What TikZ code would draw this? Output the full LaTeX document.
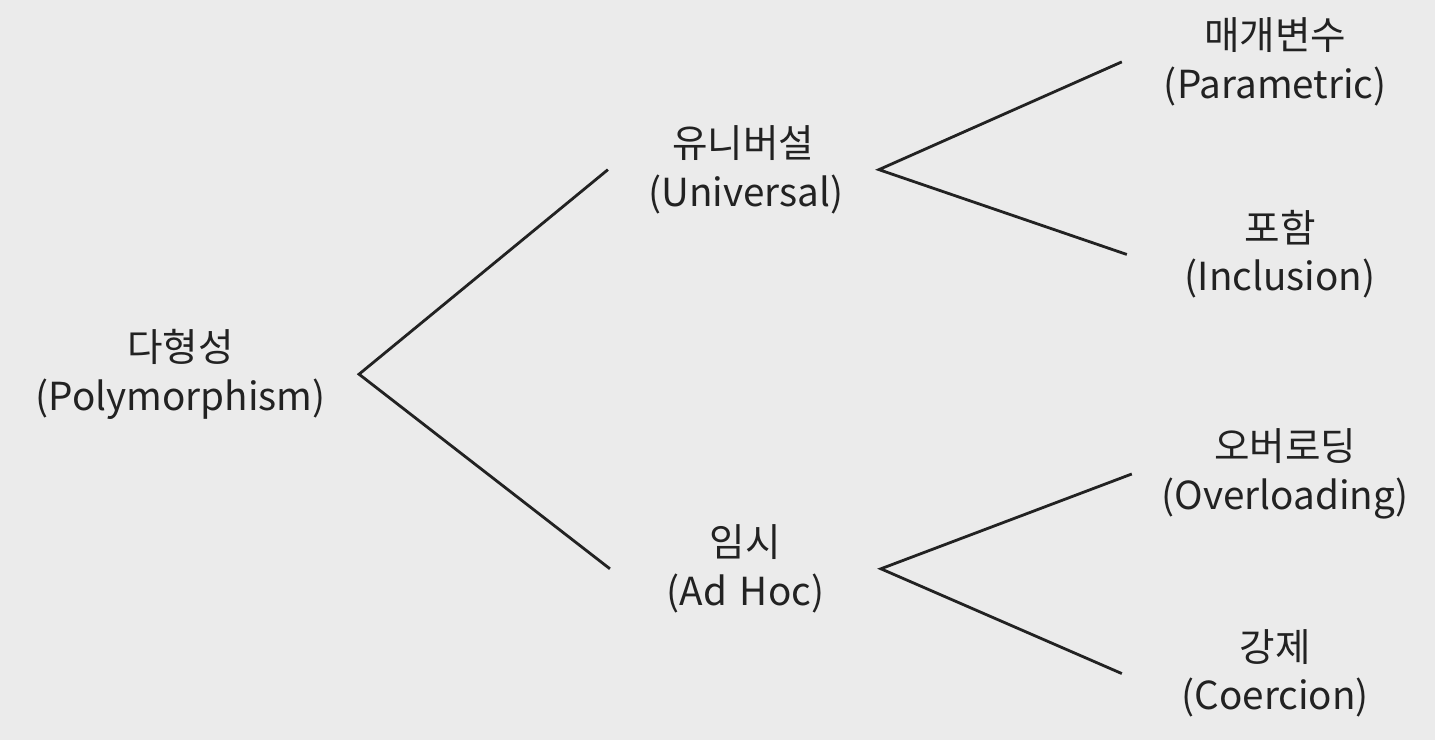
\documentclass[tikz,border=0pt]{standalone}
\usepackage{fontspec}
\newfontfamily\kr{Noto Sans CJK KR}
\usepackage{tikz}

\definecolor{paper}{HTML}{EBEBEB}
\definecolor{ink}{HTML}{222222}

\tikzset{
  term/.style={align=center, text=ink, inner xsep=0.4cm, inner ysep=2pt,
    font=\kr\fontsize{11}{13.8}\selectfont},
  leaf/.style={term, text width=2.5cm, inner xsep=0.28cm},
  branch/.style={draw=ink, line width=0.8pt}
}

\begin{document}
\begin{tikzpicture}[x=0.01cm, y=-0.01cm]
\fill[paper] (0,0) rectangle (1438,742);

% root
\node[term, text width=2.9cm, inner xsep=0.33cm] (poly) at (181,375) {다형성\\(Polymorphism)};

% middle column
\node[term, text width=1.9cm] (univ) at (745,170) {유니버설\\(Universal)};
\node[term, text width=1.9cm] (adhoc) at (747,570) {임시\\(Ad Hoc)};

% leaves
\node[leaf] (param) at (1278,62) {매개변수\\(Parametric)};
\node[leaf] (incl) at (1283,255) {포함\\(Inclusion)};
\node[leaf] (over) at (1288,475) {오버로딩\\(Overloading)};
\node[leaf] (coer) at (1278,675) {강제\\(Coercion)};

\draw[branch] (univ.west) -- (poly.east) -- (adhoc.west);
\draw[branch] (param.west) -- (univ.east) -- (incl.west);
\draw[branch] (over.west) -- (adhoc.east) -- (coer.west);
\end{tikzpicture}
\end{document}
